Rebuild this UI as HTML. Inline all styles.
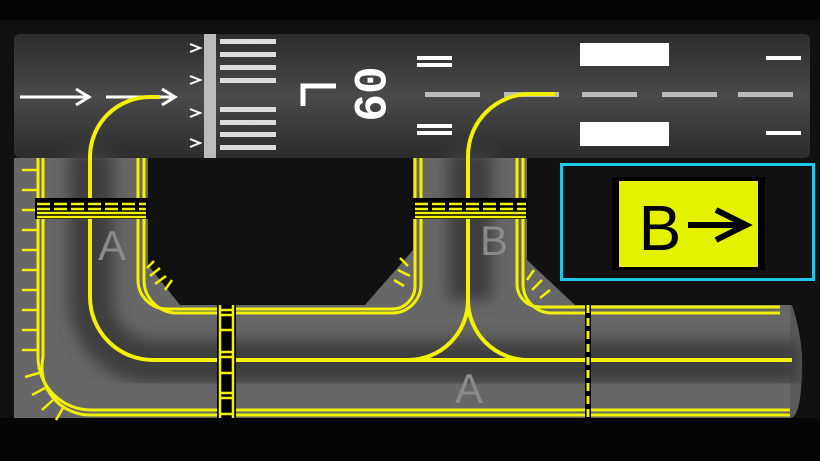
<!DOCTYPE html>
<html><head><meta charset="utf-8"><style>
html,body{margin:0;padding:0;background:#050505;}
svg{display:block;}
</style></head><body>
<svg width="820" height="461" viewBox="0 0 820 461" xmlns="http://www.w3.org/2000/svg">
<defs>
<linearGradient id="rw" x1="0" y1="0" x2="0" y2="1">
<stop offset="0" stop-color="#2c2c2c"/><stop offset="0.5" stop-color="#4a4a4a"/><stop offset="1" stop-color="#2c2c2c"/>
</linearGradient>
<filter id="bl" x="-0.1" y="-0.1" width="1.2" height="1.2"><feGaussianBlur stdDeviation="8"/></filter>
</defs>
<rect width="820" height="461" fill="#050505"/>
<rect x="0" y="20" width="820" height="400" fill="#101010"/>
<!-- runway -->
<rect x="14" y="34" width="796" height="124" rx="6" fill="url(#rw)"/>
<!-- taxiways base -->
<rect x="14" y="158" width="776" height="260" fill="#676767"/>
<path d="M790 305 Q802 305 802 361 Q802 418 790 418 Z" fill="#5a5a5a"/>
<g filter="url(#bl)" fill="none" stroke="#3e3e3e">
<path d="M91 150 V300 A62 62 0 0 0 153 362 H800" stroke-width="44"/>
<path d="M470 150 V300" stroke-width="44"/>
</g>
<!-- dark holes -->
<path d="M148 158 H413 V250 L365 305 H180 L148 265 Z" fill="#111"/>
<path d="M527 158 H820 V418 H798 Q810 360 792 305 H575 L527 260 Z" fill="#111"/>
<rect x="0" y="418" width="820" height="43" fill="#050505"/>
<!-- runway markings -->
<g fill="none" stroke="#fff" stroke-width="3">
<path d="M20 97 H86 M76 89 L89 97 L76 105"/>
<path d="M106 97 H172 M162 89 L175 97 L162 105"/>
<path d="M190 44 L200 48 L190 52 M190 76 L200 80 L190 84 M190 109 L200 113 L190 117 M190 139 L200 143 L190 147" stroke-width="2"/>
<path d="M303 106 V86 H336" stroke-width="5"/>
</g>
<rect x="204" y="34" width="12" height="124" fill="#bbb"/>
<g fill="#ddd">
<rect x="220" y="39" width="56" height="5"/><rect x="220" y="52" width="56" height="5"/><rect x="220" y="65" width="56" height="5"/><rect x="220" y="78" width="56" height="5"/>
<rect x="220" y="107" width="56" height="5"/><rect x="220" y="120" width="56" height="5"/><rect x="220" y="132" width="56" height="5"/><rect x="220" y="145" width="56" height="5"/>
</g>
<text x="0" y="0" transform="translate(355 94) rotate(90)" font-family="Liberation Mono, monospace" font-weight="bold" font-size="46" fill="#fff" text-anchor="middle">09</text>
<g fill="#fff">
<rect x="417" y="56" width="35" height="4"/><rect x="417" y="63" width="35" height="4"/>
<rect x="417" y="124" width="35" height="4"/><rect x="417" y="131" width="35" height="4"/>
<rect x="580" y="43" width="89" height="23"/><rect x="580" y="122" width="89" height="24"/>
<rect x="766" y="56" width="35" height="4"/><rect x="766" y="131" width="35" height="4"/>
</g>
<g fill="#bbb">
<rect x="425" y="92" width="55" height="5"/><rect x="504" y="92" width="55" height="5"/><rect x="582" y="92" width="55" height="5"/><rect x="662" y="92" width="55" height="5"/><rect x="738" y="92" width="55" height="5"/>
</g>
<!-- letters -->
<g font-family="Liberation Sans, sans-serif" font-size="42" fill="#8a8a8a" text-anchor="middle">
<text x="112" y="260">A</text><text x="494" y="255">B</text><text x="469" y="403">A</text>
</g>
<!-- yellow lines -->
<g fill="none" stroke="#f2f200" stroke-width="3">
<path d="M38 158 V357 A53 53 0 0 0 91 410 H790"/>
<path d="M43 158 V357 A48 48 0 0 0 91 415 H790"/>
<path d="M138 158 V280 A29 29 0 0 0 167 309 H392 A23 23 0 0 0 415 286 V158"/>
<path d="M144 158 V280 A33 33 0 0 0 177 313 H392 A29 29 0 0 0 421 284 V158"/>
<path d="M517 158 V284 A23 23 0 0 0 540 307 H780"/>
<path d="M523 158 V284 A29 29 0 0 0 552 313 H780"/>
<path d="M160 97 H150 A60 60 0 0 0 90 157 V297 A63 63 0 0 0 153 360 H792" stroke-width="4"/>
<path d="M555 94 H530 A62 62 0 0 0 468 156 V300 A60 60 0 0 1 408 360 M468 300 A60 60 0 0 0 528 360" stroke-width="4"/>
</g>
<!-- edge ticks -->
<g stroke="#f2f200" stroke-width="2.5">
<path d="M22 170 H37 M22 190 H37 M22 210 H37 M22 230 H37 M22 250 H37 M22 270 H37 M22 290 H37 M22 310 H37 M22 330 H37 M22 350 H37"/>
<path d="M25 377 L39 373 M32 395 L45 388 M42 410 L53 400 M56 420 L63 408"/>
<path d="M147 268 L154 261 M150 276 L160 268 M155 284 L166 276 M165 290 L172 280"/>
<path d="M408 266 L400 258 M410 276 L398 270 M404 286 L394 280"/>
<path d="M527 280 L534 270 M532 290 L542 280 M540 298 L550 290"/>
</g>
<!-- hold short bars -->
<g>
<rect x="35" y="198" width="113" height="21" fill="#000"/>
<rect x="413" y="198" width="115" height="21" fill="#000"/>
<g stroke="#f2f200" stroke-width="2.5">
<path d="M37 204 H146 M415 204 H526" stroke-dasharray="13 4"/>
<path d="M37 209 H146 M415 209 H526" stroke-dasharray="13 4"/>
<path d="M37 213 H146 M37 217 H146 M415 213 H526 M415 217 H526"/>
</g>
</g>
<!-- ladder -->
<rect x="217" y="305" width="19" height="113" fill="#000"/>
<g stroke="#f2f200" stroke-width="2.5">
<path d="M220 305 V418 M233 305 V418"/>
<path d="M220 310 H233 M220 315 H233 M220 330 H233 M220 352 H233 M220 357 H233 M220 373 H233 M220 393 H233 M220 398 H233 M220 414 H233"/>
</g>
<rect x="585" y="305" width="6" height="113" fill="#000"/>
<path d="M588 305 V418" stroke="#f2f200" stroke-width="3" stroke-dasharray="8 5"/>
<!-- sign -->
<rect x="561.5" y="164.5" width="252" height="115" fill="#111" stroke="#1ec8e8" stroke-width="3"/>
<rect x="612" y="177" width="153" height="93" fill="#000"/>
<rect x="619" y="181" width="139" height="86" fill="#e4f200"/>
<text x="660" y="250" font-family="Liberation Sans, sans-serif" font-size="64" fill="#000" text-anchor="middle">B</text>
<g stroke="#000" stroke-width="6" fill="none">
<path d="M688 225 H744 M716 210 L746 225 L716 240"/>
</g>
</svg>
</body></html>
